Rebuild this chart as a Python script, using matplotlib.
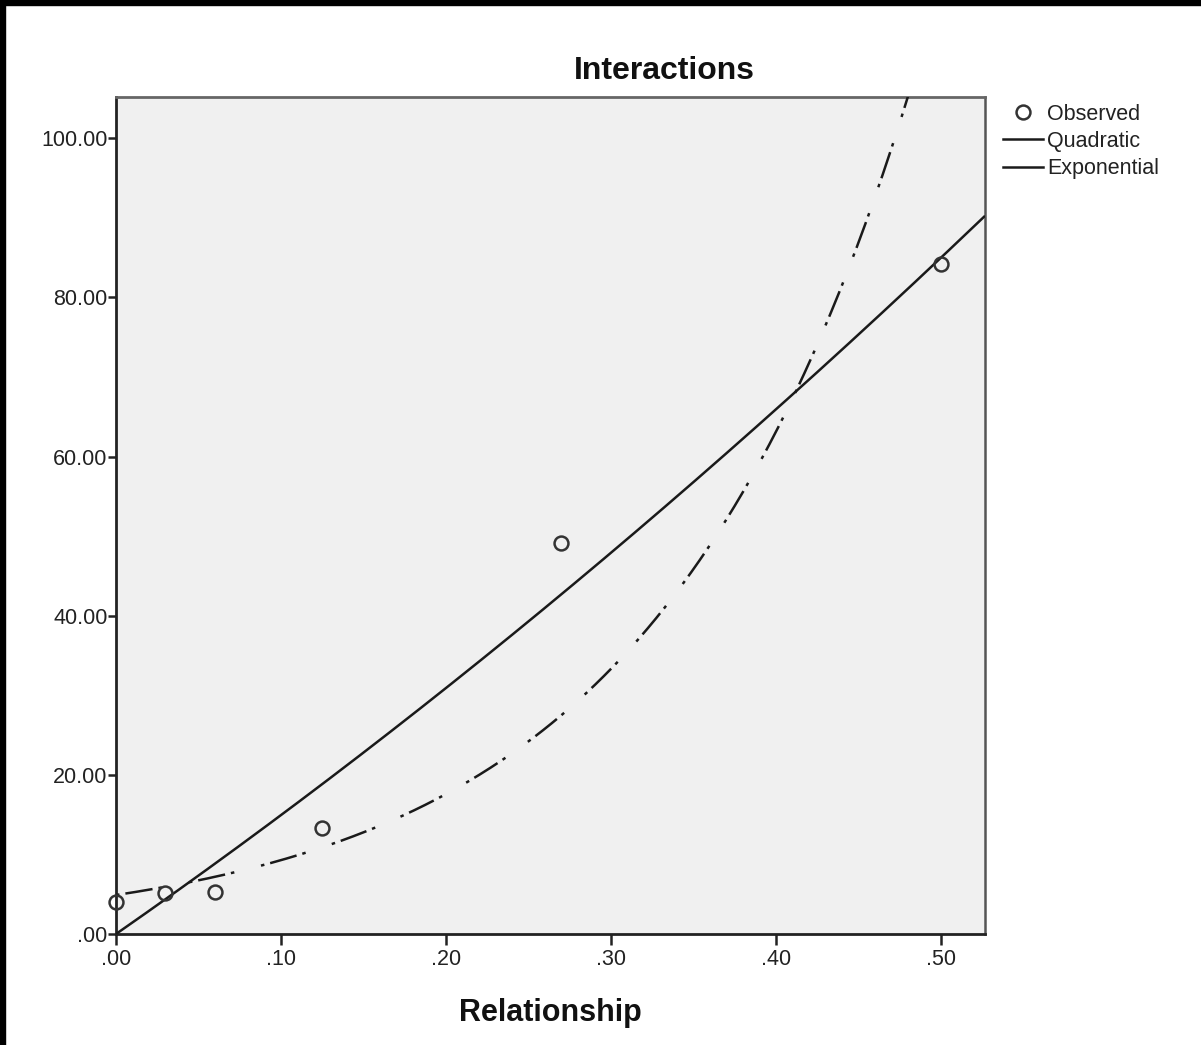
import numpy as np
import matplotlib
matplotlib.use('Agg')
import matplotlib.pyplot as plt
from matplotlib.lines import Line2D
from matplotlib.patches import Rectangle
from matplotlib.ticker import FuncFormatter

plt.rcParams['font.family'] = ['Liberation Sans', 'DejaVu Sans']

# observed values
relationship = [0.0, 0.03, 0.06, 0.125, 0.27, 0.50]
interactions = [4.0, 5.1, 5.3, 13.3, 49.1, 84.2]

# curve estimation coefficients
quad_b0, quad_b1, quad_b2 = 0.0, 144.3, 51.4
exp_b0, exp_b1 = 4.9, 6.39

x_ticks = [0.0, 0.1, 0.2, 0.3, 0.4, 0.5]
y_ticks = [0, 20, 40, 60, 80, 100]


def spss_fmt(v, pos=None):
    s = f"{v:.2f}"
    if s.startswith("0."):
        s = s[1:]
    return s


W, H = 1201, 1045
fig = plt.figure(figsize=(W / 100, H / 100), dpi=100)
fig.patch.set_facecolor('white')

# black strips along the top and left edges
fig.patches.append(Rectangle((0, 1 - 5 / H), 1, 5 / H, transform=fig.transFigure,
                             color='black', zorder=10))
fig.patches.append(Rectangle((0, 0), 5 / W, 1, transform=fig.transFigure,
                             color='black', zorder=10))

left, right, top, bottom = 116, 985, 97, 934
ax = fig.add_axes([left / W, 1 - bottom / H, (right - left) / W, (bottom - top) / H])
ax.set_facecolor('#f0f0f0')

xlim = (0.0, 0.5267)
ax.set_xlim(*xlim)
ax.set_ylim(0, 105.2)

xs = np.linspace(xlim[0], xlim[1], 400)
ax.plot(xs, quad_b0 + quad_b1 * xs + quad_b2 * xs ** 2, color='#1a1a1a', lw=1.8,
        solid_capstyle='butt', zorder=3)
ax.plot(xs, exp_b0 * np.exp(exp_b1 * xs), color='#1a1a1a', lw=1.8,
        linestyle=(0, (1.4, 2.4, 11, 2.4, 1.4, 11)), dash_capstyle='butt', zorder=3)
ax.plot(relationship, interactions, linestyle='none', marker='o', markersize=10,
        markerfacecolor='none', markeredgecolor='#333333', markeredgewidth=1.8,
        clip_on=False, zorder=4)

ax.set_xticks(x_ticks)
ax.set_yticks(y_ticks)
ax.xaxis.set_major_formatter(FuncFormatter(spss_fmt))
ax.yaxis.set_major_formatter(FuncFormatter(spss_fmt))
ax.tick_params(axis='x', length=8, width=1.8, pad=3, labelsize=15.5, colors='#222222')
ax.tick_params(axis='y', length=6, width=1.8, pad=0, labelsize=15.5, colors='#222222')

for side in ['left', 'bottom']:
    ax.spines[side].set_linewidth(2.0)
    ax.spines[side].set_color('#222222')
ax.spines['top'].set_linewidth(2.0)
ax.spines['top'].set_color('#666666')
ax.spines['right'].set_linewidth(1.8)
ax.spines['right'].set_color('#555555')

fig.text(664 / W, 1 - 71 / H, 'Interactions', ha='center', va='center',
         fontsize=23, fontweight='bold', color='#111111')
fig.text((left + right) / 2 / W, 1 - 1013 / H, 'Relationship', ha='center',
         va='center', fontsize=22, fontweight='bold', color='#111111')

handles = [
    Line2D([], [], linestyle='none', marker='o', markersize=10, markerfacecolor='none',
           markeredgecolor='#333333', markeredgewidth=1.8),
    Line2D([], [], color='#1a1a1a', lw=1.8),
    Line2D([], [], color='#1a1a1a', lw=1.8),
]
fig.legend(handles, ['Observed', 'Quadratic', 'Exponential'], loc='upper left',
           bbox_to_anchor=(1003 / W, 1 - 104 / H), frameon=False, fontsize=15.5,
           handlelength=1.85, handletextpad=0.2, labelspacing=0.28, borderpad=0,
           borderaxespad=0, labelcolor='#222222')

fig.savefig('out.png', dpi=100, facecolor='white')
